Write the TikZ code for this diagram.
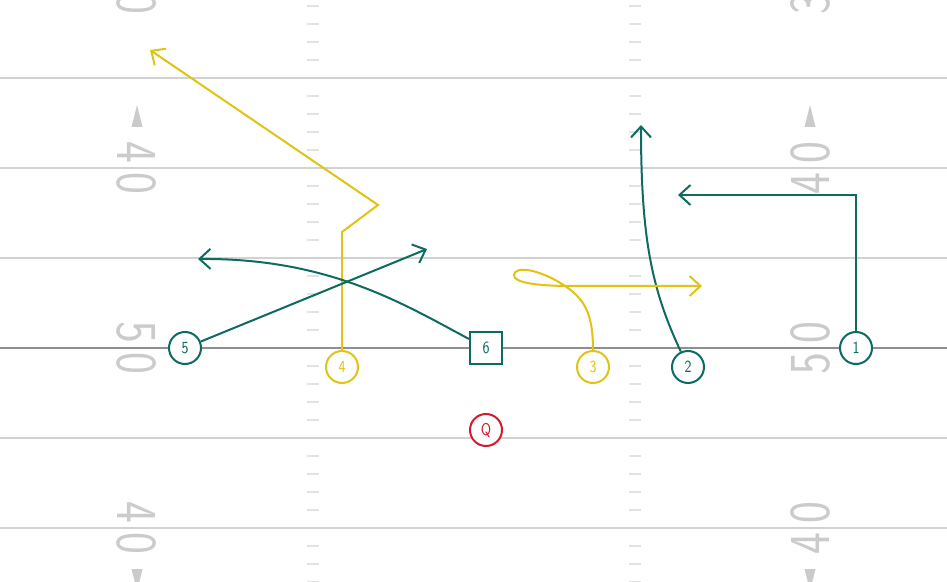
\documentclass[tikz,border=0pt]{standalone}
\usepackage{fontspec}
\usetikzlibrary{arrows.meta}
\definecolor{routeteal}{HTML}{0E6B60}
\definecolor{routeyellow}{HTML}{E1C313}
\definecolor{qbred}{HTML}{D61A2C}
\definecolor{yardgray}{HTML}{D2D2D2}
\definecolor{hashgray}{HTML}{E2E2E2}
\definecolor{losgray}{HTML}{8F8F8F}
\definecolor{numgray}{HTML}{CBCBCB}
\newcommand{\narrow}[2]{\scalebox{#1}[1]{#2}}

\begin{document}
\begin{tikzpicture}[x=0.5pt, y=-0.5pt,
  yardline/.style={draw=yardgray, line width=1pt},
  scrimline/.style={draw=losgray, line width=1pt},
  hashmark/.style={draw=hashgray, line width=0.6pt},
  yardnum/.style={text=numgray, inner sep=0pt, font=\sffamily\fontsize{29}{29}\selectfont},
  player/.style={shape=circle, draw=#1, text=#1, fill=white, line width=1pt, minimum size=16pt, inner sep=0pt, font=\sffamily\fontsize{8.5}{8.5}\selectfont},
  snapbox/.style={shape=rectangle, draw=#1, text=#1, fill=white, line width=1pt, minimum size=16pt, inner sep=0pt, font=\sffamily\fontsize{8.5}{8.5}\selectfont},
  route/.style={draw=#1, line width=1pt, -{Straight Barb[length=5.5pt, width=10pt]}},
]
\useasboundingbox (0,0) rectangle (947,582);
\fill[white] (0,0) rectangle (947,582);

% field
\foreach \y in {78,168,258,438,528} \draw[yardline] (0,\y) -- (947,\y);
\draw[scrimline] (0,348) -- (947,348);
\foreach \base in {-12,78,...,528}
  \foreach \k in {18,36,54,72} {
    \draw[hashmark] (307,\base+\k) -- (319,\base+\k);
    \draw[hashmark] (629,\base+\k) -- (641,\base+\k);
  }

% yard numbers
\node[yardnum, rotate=-90] (l30) at (137,-12) {\narrow{0.8}{3\kern6pt0}};
\node[yardnum, rotate=-90] (l40a) at (137,168) {\narrow{0.8}{4\kern6pt0}};
\node[yardnum, rotate=-90] (l50) at (137,348) {\narrow{0.8}{5\kern6pt0}};
\node[yardnum, rotate=-90] (l40b) at (137,528) {\narrow{0.8}{4\kern6pt0}};
\node[yardnum, rotate=90] (r30) at (810,-12) {\narrow{0.8}{3\kern6pt0}};
\node[yardnum, rotate=90] (r40a) at (810,168) {\narrow{0.8}{4\kern6pt0}};
\node[yardnum, rotate=90] (r50) at (810,348) {\narrow{0.8}{5\kern6pt0}};
\node[yardnum, rotate=90] (r40b) at (810,528) {\narrow{0.8}{4\kern6pt0}};
\fill[numgray] (137,105) -- (131.5,127) -- (142.5,127) -- cycle;
\fill[numgray] (810,105) -- (804.5,127) -- (815.5,127) -- cycle;
\fill[numgray] (137,591) -- (131.5,569) -- (142.5,569) -- cycle;
\fill[numgray] (810,591) -- (804.5,569) -- (815.5,569) -- cycle;

% players
\node[player=routeteal] (p1) at (856,348) {\narrow{0.8}{1}};
\node[player=routeteal] (p2) at (688,367) {\narrow{0.8}{2}};
\node[player=routeyellow] (p3) at (593,367) {\narrow{0.8}{3}};
\node[player=routeyellow] (p4) at (342,367) {\narrow{0.8}{4}};
\node[player=routeteal] (p5) at (185,348) {\narrow{0.8}{5}};
\node[snapbox=routeteal] (p6) at (486,348) {\narrow{0.8}{6}};
\node[player=qbred] (qb) at (486,430) {\narrow{0.8}{Q}};

% route ends
\coordinate (r1end) at (678,195);
\coordinate (r2end) at (641,125);
\coordinate (r3end) at (702,286);
\coordinate (r4end) at (150,50);
\coordinate (r5end) at (427,249);
\coordinate (r6end) at (198,259);

% routes
\draw[route=routeteal] (p1) -- (856,195) -- (r1end);
\draw[route=routeteal] (p2) .. controls (652,290) and (641,240) .. (r2end);
\draw[route=routeyellow] (p3) .. controls (593,312) and (584,298) .. (562,284) .. controls (540,270) and (515,265) .. (514,275) .. controls (513,283) and (540,286) .. (570,286) -- (r3end);
\draw[route=routeyellow] (p4) -- (342,232) -- (378,205) -- (r4end);
\draw[route=routeteal] (p5) -- (r5end);
\draw[route=routeteal] (p6) .. controls (405,305) and (330,258) .. (r6end);
\end{tikzpicture}
\end{document}
